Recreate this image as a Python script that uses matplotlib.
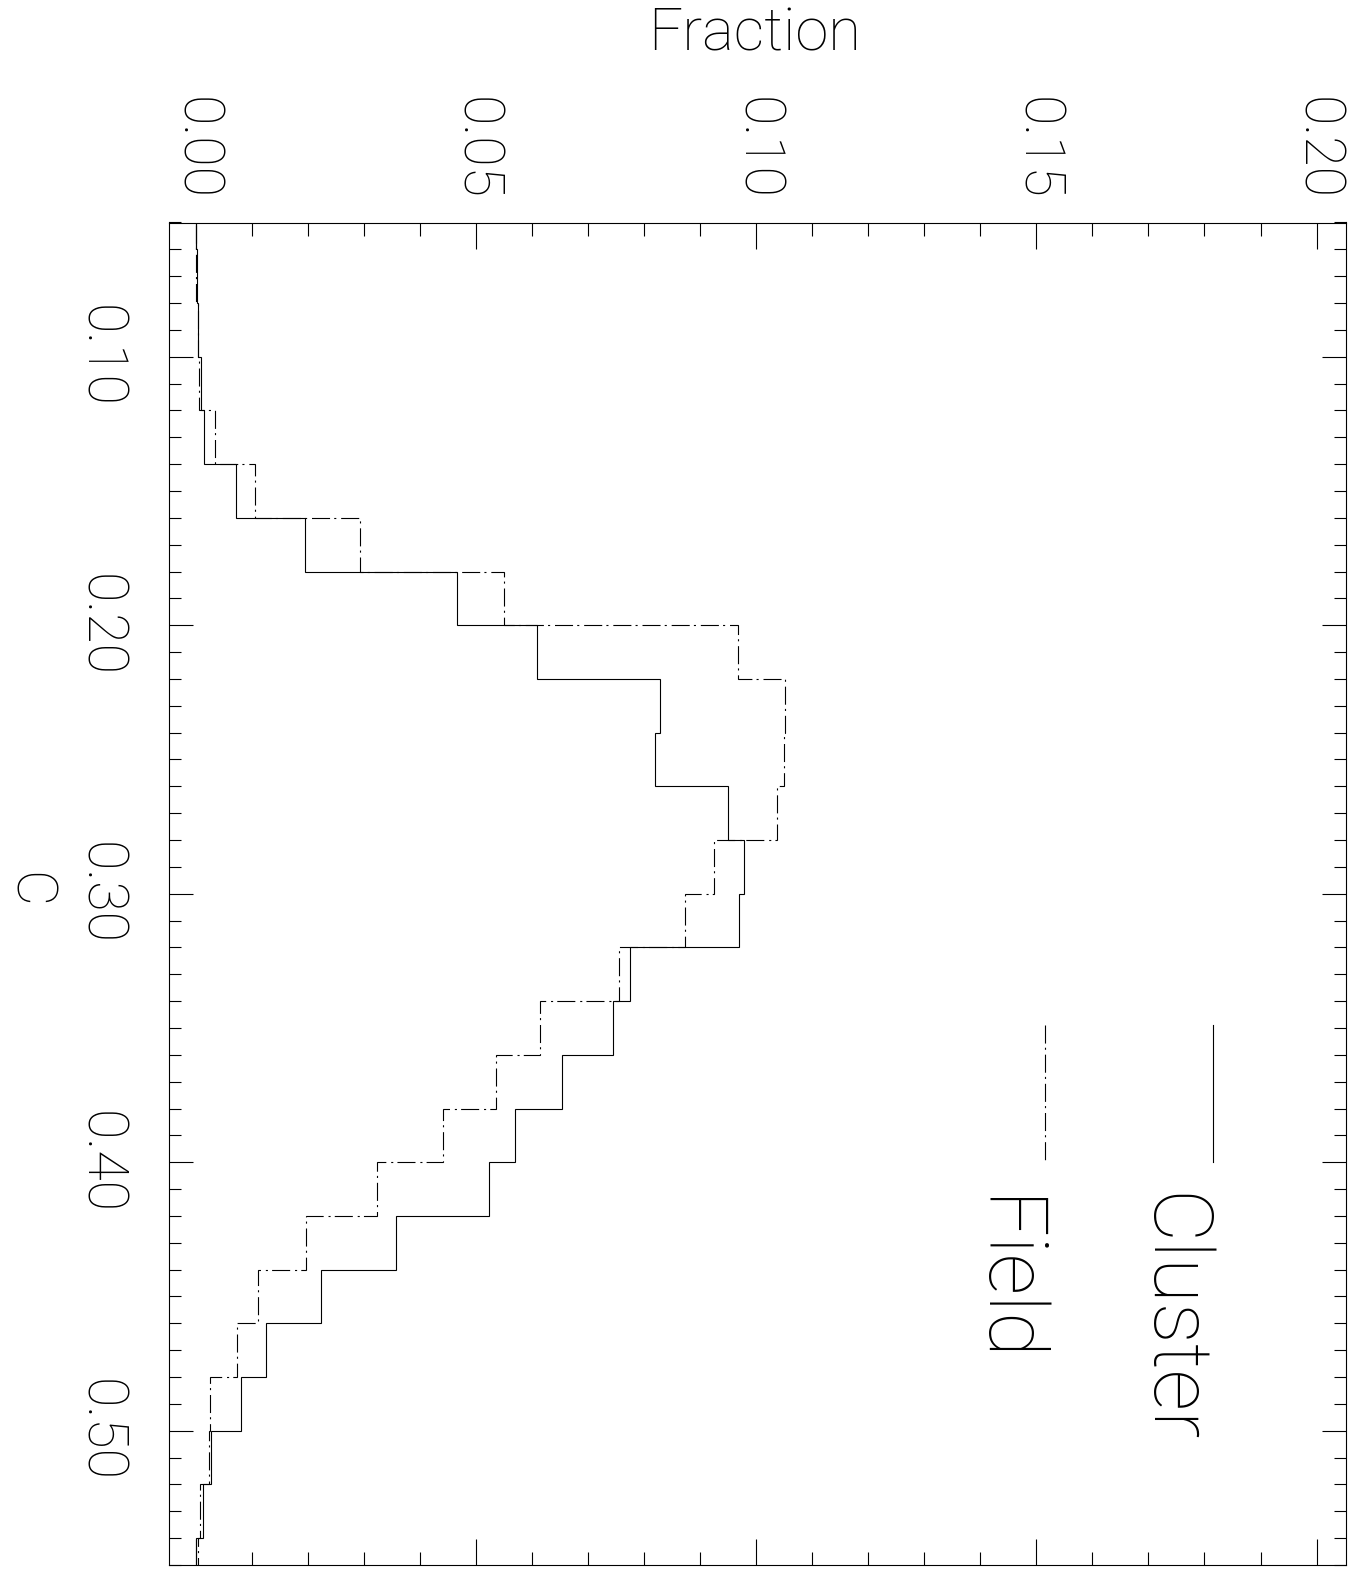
import matplotlib
matplotlib.use("Agg")
import matplotlib.pyplot as plt
from matplotlib.ticker import MultipleLocator

# C histogram, bins of width 0.02
bin_edges = [0.04, 0.06, 0.08, 0.10, 0.12, 0.14, 0.16, 0.18, 0.20, 0.22, 0.24,
             0.26, 0.28, 0.30, 0.32, 0.34, 0.36, 0.38, 0.40, 0.42, 0.44, 0.46,
             0.48, 0.50, 0.52, 0.54, 0.56]
cluster_frac = [0.0, 0.0002, 0.0003, 0.0009, 0.0015, 0.0071, 0.0194, 0.0466,
                0.0609, 0.0828, 0.0820, 0.0949, 0.0979, 0.0969, 0.0775, 0.0745,
                0.0654, 0.0569, 0.0523, 0.0357, 0.0224, 0.0126, 0.0080, 0.0027,
                0.0012, 0.0]
field_frac = [0.0001, 0.0001, 0.0004, 0.0006, 0.0034, 0.0106, 0.0292, 0.0549,
              0.0967, 0.1051, 0.1050, 0.1037, 0.0924, 0.0872, 0.0755, 0.0614,
              0.0536, 0.0441, 0.0323, 0.0196, 0.0110, 0.0073, 0.0026, 0.0023,
              0.0007, 0.0003]
frac_ticks = [0.00, 0.05, 0.10, 0.15, 0.20]
c_ticks = [0.10, 0.20, 0.30, 0.40, 0.50]

W, H = 1356, 1574
plt.rcParams['lines.scale_dashes'] = False
plt.rcParams['font.family'] = ['Roboto', 'DejaVu Sans']
plt.rcParams['font.weight'] = 'light'

fig = plt.figure(figsize=(W / 100, H / 100), dpi=100)
x0, x1, y0, y1 = 169, 1345.7, 222.5, 1565
ax = fig.add_axes([x0 / W, 1 - y1 / H, (x1 - x0) / W, (y1 - y0) / H])

lw = 0.8
dashdot = (0, (13, 3, 1.5, 3.5))
ax.stairs(cluster_frac, bin_edges, orientation='horizontal', baseline=None,
          color='black', linewidth=lw)
ax.stairs(field_frac, bin_edges, orientation='horizontal', baseline=None,
          color='black', linewidth=lw, linestyle=dashdot)

ax.set_xlim(-0.0048, 0.2052)
ax.set_ylim(0.55, 0.05)

ax.xaxis.set_major_locator(MultipleLocator(0.05))
ax.xaxis.set_minor_locator(MultipleLocator(0.01))
ax.yaxis.set_major_locator(MultipleLocator(0.1))
ax.yaxis.set_minor_locator(MultipleLocator(0.01))
ax.set_xticks(frac_ticks)
ax.set_xticklabels(['%.2f' % v for v in frac_ticks], rotation=-90,
                   fontweight='light')
ax.set_yticks(c_ticks)
ax.set_yticklabels(['%.2f' % v for v in c_ticks], rotation=-90, va='center',
                   fontweight='light')

ax.tick_params(axis='x', which='both', direction='in', top=True, bottom=True,
               labeltop=True, labelbottom=False, width=lw, color='black')
ax.tick_params(axis='x', which='major', length=18.7, pad=16, labelsize=40)
ax.tick_params(axis='x', which='minor', length=9.4)
ax.tick_params(axis='y', which='both', direction='in', left=True, right=True,
               width=lw, color='black')
ax.tick_params(axis='y', which='major', length=17, pad=31, labelsize=40)
ax.tick_params(axis='y', which='minor', length=8.6)
for s in ax.spines.values():
    s.set_linewidth(lw)

# legend drawn by hand, rotated like the rest of the text
ax.plot([0.1815, 0.1815], [0.349, 0.400], color='black', linewidth=lw)
ax.plot([0.1515, 0.1515], [0.349, 0.400], color='black', linewidth=lw,
        linestyle=dashdot)
ax.text(0.1700, 0.4114, 'Cluster', rotation=-90, rotation_mode='anchor',
        ha='left', va='baseline', fontsize=59, fontweight='light')
ax.text(0.1402, 0.4128, 'Field', rotation=-90, rotation_mode='anchor',
        ha='left', va='baseline', fontsize=59, fontweight='light')

fig.text(755 / W, 1 - 34 / H, 'Fraction', ha='center', va='center',
         fontsize=43, fontweight='light')
fig.text(28 / W, 1 - 890 / H, 'C', ha='center', va='center', rotation=-90,
         fontsize=40, fontweight='light')

fig.savefig('out.png', dpi=100, facecolor='white')
